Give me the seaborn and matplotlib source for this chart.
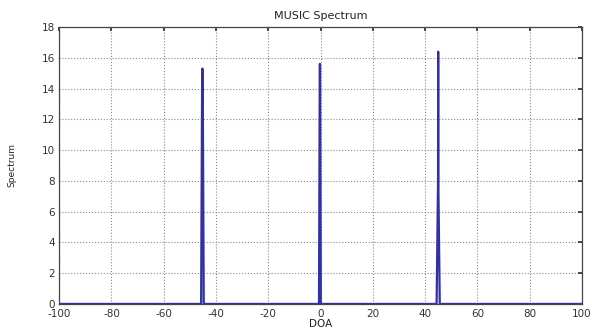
import numpy as np
import pandas as pd
import matplotlib
matplotlib.use("Agg")
import matplotlib.pyplot as plt
import seaborn as sns

# DOA (deg) and MUSIC pseudo-spectrum
doa = [-100, -45.7, -45.3, -45.2, -45.1, -44.7,
       -0.6, -0.3, -0.2, 0.1,
       44.4, 44.95, 45.0, 45.05, 45.6, 100]
spectrum = [0.0, 0.0, 15.0, 15.3, 15.0, 0.0,
            0.0, 15.6, 15.6, 0.0,
            0.0, 8.0, 16.4, 8.0, 0.0, 0.0]

x_ticks = list(range(-100, 101, 20))
y_ticks = list(range(0, 19, 2))

sns.set_theme(style="white")
plt.rcParams["font.family"] = ["DejaVu Sans"]
plt.rcParams["axes.unicode_minus"] = False

df = pd.DataFrame({"DOA": doa, "Spectrum": spectrum})

fig = plt.figure(figsize=(5.92, 3.30), dpi=100)
ax = fig.add_axes([0.1, 0.079, 0.883, 0.839])
sns.lineplot(data=df, x="DOA", y="Spectrum", sort=False, color="#3030a8",
             linewidth=1.6, ax=ax)

ax.set_xlim(-100, 100)
ax.set_ylim(0, 18)
ax.set_xticks(x_ticks)
ax.set_yticks(y_ticks)
ax.grid(True, linestyle=":", color="#8a8a8a", linewidth=0.8)
ax.tick_params(direction="in", length=3, labelsize=7.5, colors="#333333",
               top=True, right=True)
ax.tick_params(axis="x", pad=4)
ax.tick_params(axis="y", pad=3)
for s in ax.spines.values():
    s.set_color("#444444")
    s.set_linewidth(0.9)
ax.set_title("MUSIC Spectrum", fontsize=8, pad=6, color="#222222")
ax.set_xlabel("DOA", fontsize=7.5, labelpad=0, color="#222222")
ax.set_ylabel("Spectrum", fontsize=6.5, labelpad=18, color="#222222")

fig.savefig("out.png", dpi=100)
